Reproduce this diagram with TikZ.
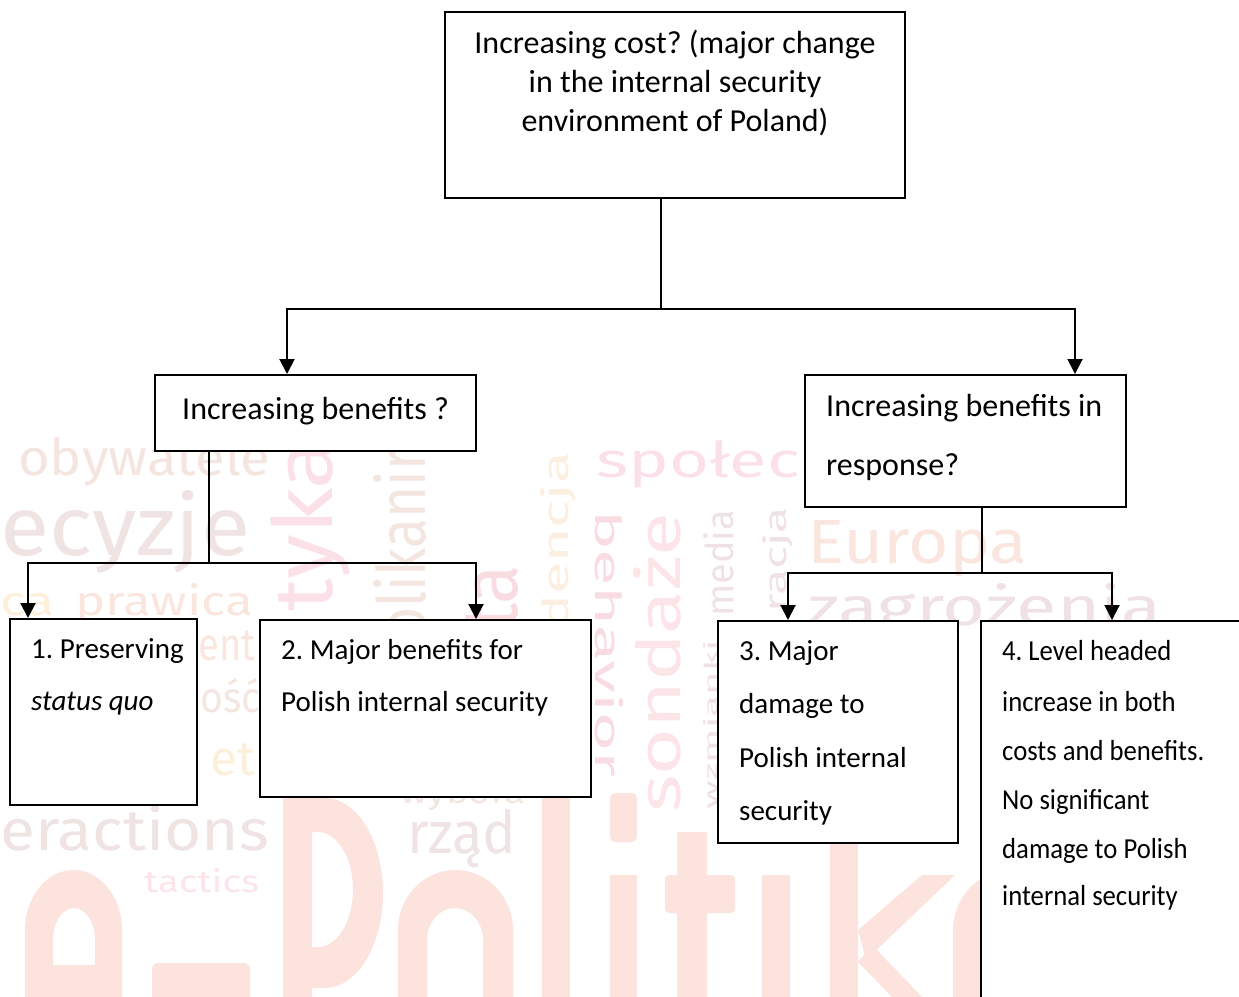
\documentclass[tikz,border=0pt]{standalone}
\usepackage{graphicx}
\usepackage{fontspec}
\setmainfont{Carlito}
\newfontfamily\narrowf{Carlito}[FakeStretch=0.92]
\newfontfamily\wmf{Fira Sans}
\usetikzlibrary{arrows.meta}
\frenchspacing
\definecolor{wmbig}{HTML}{FCE3DD}
\definecolor{wmpg}{HTML}{F5E5E0}
\definecolor{wmpink}{HTML}{FBE0E7}
\definecolor{wmgray}{HTML}{EFE3E3}
\definecolor{wmpeachgray}{HTML}{F3E6E0}
\definecolor{wmpinkb}{HTML}{F9DBE2}
\definecolor{wmpeach}{HTML}{FCEFE0}
\definecolor{wmyellow}{HTML}{FDF0DA}
\definecolor{wmpeachb}{HTML}{FAE6DE}
\definecolor{wmpinkc}{HTML}{FCE4E8}
\definecolor{wmgraypink}{HTML}{EFE1E4}
\tikzset{
  box/.style={draw=black, line width=2pt, fill=white, rectangle, inner sep=0pt},
  conn/.style={line width=2pt},
  arr/.style={conn, -{Triangle[width=15pt,length=15pt]}},
  lbl/.style={inner sep=0pt, anchor=base west, font=\fontsize{32}{39}\selectfont},
  mlbl/.style={inner sep=0pt, anchor=base west, font=\fontsize{29}{35}\selectfont},
  nlbl/.style={inner sep=0pt, anchor=base west, font=\narrowf\fontsize{29}{35}\selectfont},
  wm/.style={inner sep=0pt, anchor=base west, font=\wmf},
  big/.style={fill=wmbig, draw=none},
}
\begin{document}
\begin{tikzpicture}[x=1pt,y=-1pt]
\useasboundingbox (0,0) rectangle (1239,996);
\clip (0,0) rectangle (1239,996);
% ---------- watermark ----------
\fill[big,even odd rule] (25,1000) -- (25,930) arc[start angle=180,end angle=360,x radius=48.5,y radius=60] -- (122,1000) -- cycle
  (53,965) -- (53,940) arc[start angle=180,end angle=360,x radius=21,y radius=32] -- (95,965) -- cycle;
\fill[big,rounded corners=6pt] (152,963) rectangle (250,1010);
\fill[big,even odd rule] (283,798) -- (325,798) arc[start angle=-90,end angle=90,x radius=58,y radius=95] -- (312,988) -- (312,1000) -- (283,1000) -- cycle
  (312,832) -- (318,832) arc[start angle=-90,end angle=90,x radius=35,y radius=57.5] -- (312,947) -- cycle;
\fill[big,even odd rule] (398,1000) -- (398,930) arc[start angle=180,end angle=360,x radius=57.5,y radius=60] -- (513,1000) -- cycle
  (427,1000) -- (427,940) arc[start angle=180,end angle=360,x radius=28,y radius=32] -- (483,1000) -- cycle;
\fill[big] (542,798) rectangle (570,1000);
\fill[big,rounded corners=5pt] (610,793) rectangle (637,842);
\fill[big] (610,875) rectangle (637,1000);
\fill[big] (677,832) rectangle (707,1000);
\fill[big,rounded corners=4pt] (665,875) rectangle (735,913);
\fill[big,rounded corners=5pt] (762,793) rectangle (790,842);
\fill[big] (762,875) rectangle (790,1000);
\fill[big] (830,800) rectangle (858,1000);
\fill[big] (858,930) -- (922,875) -- (955,875) -- (866,960) -- cycle;
\fill[big] (872,945) -- (925,1000) -- (895,1000) -- (858,962) -- cycle;
\fill[big,even odd rule] (953,1000) -- (953,930) arc[start angle=180,end angle=360,x radius=58.5,y radius=60] -- (1070,1000) -- cycle
  (982,1000) -- (982,940) arc[start angle=180,end angle=360,x radius=29,y radius=32] -- (1040,1000) -- cycle;
\node[wm,text=wmpg] (w1) at (18,475) {\resizebox{252pt}{38pt}{obywatele}};
\node[wm,text=wmpink,rotate=90] (w2) at (332,612) {\resizebox{172pt}{62pt}{tyka}};
\node[wm,text=wmgray] (w3) at (0,555) {\resizebox{250pt}{65pt}{ecyzje}};
\node[wm,text=wmpeachgray,rotate=90] (w4) at (425,640) {\resizebox{190pt}{52pt}{olikanir}};
\node[wm,text=wmpinkb,rotate=90] (w5) at (517,630) {\resizebox{65pt}{52pt}{ta}};
\node[wm,text=wmpeach,rotate=90] (w6) at (568,630) {\resizebox{178pt}{28pt}{dencja}};
\node[wm,text=wmyellow] (w7) at (0,615) {\resizebox{54pt}{22pt}{ca}};
\node[wm,text=wmpeachb] (w8) at (75,615) {\resizebox{178pt}{32pt}{prawica}};
\node[wm,text=wmpeachb] (w9) at (198,660) {\resizebox{57pt}{30pt}{ent}};
\node[wm,text=wmpeachgray] (w10) at (200,712) {\resizebox{60pt}{34pt}{ość}};
\node[wm,text=wmyellow] (w11) at (210,775) {\resizebox{45pt}{32pt}{et}};
\node[wm,text=wmgray] (w12) at (0,850) {\resizebox{269pt}{45pt}{eractions}};
\node[wm,text=wmpinkc] (w13) at (144,892) {\resizebox{115pt}{24pt}{tactics}};
\node[wm,text=wmgray] (w14) at (407,853) {\resizebox{109pt}{44pt}{rząd}};
\node[wm,text=wmpeachgray] (w15) at (400,803) {\resizebox{125pt}{26pt}{wybora}};
\node[wm,text=wmpink] (w16) at (596,477) {\resizebox{204pt}{37pt}{społec}};
\node[wm,text=wmpinkb,rotate=-90] (w17) at (595,510) {\resizebox{267pt}{28pt}{behavior}};
\node[wm,text=wmpinkc,rotate=90] (w18) at (680,813) {\resizebox{300pt}{47pt}{sondaże}};
\node[wm,text=wmgraypink,rotate=90] (w19) at (733,617) {\resizebox{107pt}{30pt}{media}};
\node[wm,text=wmgraypink,rotate=90] (w20) at (717,810) {\resizebox{170pt}{14pt}{wzmianki}};
\node[wm,text=wmgraypink,rotate=90] (w21) at (786,613) {\resizebox{106pt}{24pt}{racja}};
\node[wm,text=wmpeachb] (w22) at (807,563) {\resizebox{220pt}{43pt}{Europa}};
\node[wm,text=wmgraypink] (w23) at (807,625) {\resizebox{354pt}{42pt}{zagrożenia}};
% ---------- boxes ----------
\node[box, minimum width=460pt, minimum height=186pt] (T) at (675,105) {};
\node[box, minimum width=321pt, minimum height=76pt] (A) at (315.5,413) {};
\node[box, minimum width=321pt, minimum height=132pt] (B) at (965.5,441) {};
\node[box, minimum width=187pt, minimum height=186pt] (N1) at (103.5,712) {};
\node[box, minimum width=331pt, minimum height=177pt] (N2) at (425.5,708.5) {};
\node[box, minimum width=240pt, minimum height=222pt] (N3) at (838,732) {};
\node[box, minimum width=262pt, minimum height=384pt] (N4) at (1112,813) {};
% ---------- connectors ----------
\draw[conn] ([xshift=-14pt]T.south) -- ++(0,110) coordinate (j1);
\draw[arr] (j1) -| ([xshift=-28.5pt]A.north);
\draw[arr] (j1) -| ([xshift=109.5pt]B.north);
\draw[conn] ([xshift=-106.5pt]A.south) -- ++(0,111) coordinate (j2);
\draw[arr] (j2) -| ([xshift=-75.5pt]N1.north);
\draw[arr] (j2) -| ([xshift=50.5pt]N2.north);
\draw[conn] ([xshift=16.5pt]B.south) -- ++(0,65) coordinate (j3);
\draw[arr] (j3) -| ([xshift=-50pt]N3.north);
\draw[arr] (j3) -| (N4.north);
% ---------- texts ----------
\node[lbl,anchor=base] (tT1) at (675,53) {Increasing cost? (major change};
\node[lbl,anchor=base] (tT2) at (675,92) {in the internal security};
\node[lbl,anchor=base] (tT3) at (675,131) {environment of Poland)};
\node[lbl] (tA1) at (182,419) {Increasing benefits ?};
\node[lbl] (tB1) at (826,416) {Increasing benefits in};
\node[lbl] (tB2) at (826,475) {response?};
\node[mlbl] (t11) at (31,658) {1. Preserving};
\node[mlbl] (t12) at (31,710) {\itshape status quo};
\node[mlbl] (t21) at (281,659) {2. Major benefits for};
\node[mlbl] (t22) at (281,711) {Polish internal security};
\node[mlbl] (t31) at (739,660) {3. Major};
\node[mlbl] (t32) at (739,713) {damage to};
\node[mlbl] (t33) at (739,767) {Polish internal};
\node[mlbl] (t34) at (739,820) {security};
\node[nlbl] (t41) at (1002,660) {4. Level headed};
\node[nlbl] (t42) at (1002,711) {increase in both};
\node[nlbl] (t43) at (1002,760) {costs and benefits.};
\node[nlbl] (t44) at (1002,809) {No significant};
\node[nlbl] (t45) at (1002,858) {damage to Polish};
\node[nlbl] (t46) at (1002,905) {internal security};
\end{tikzpicture}
\end{document}
